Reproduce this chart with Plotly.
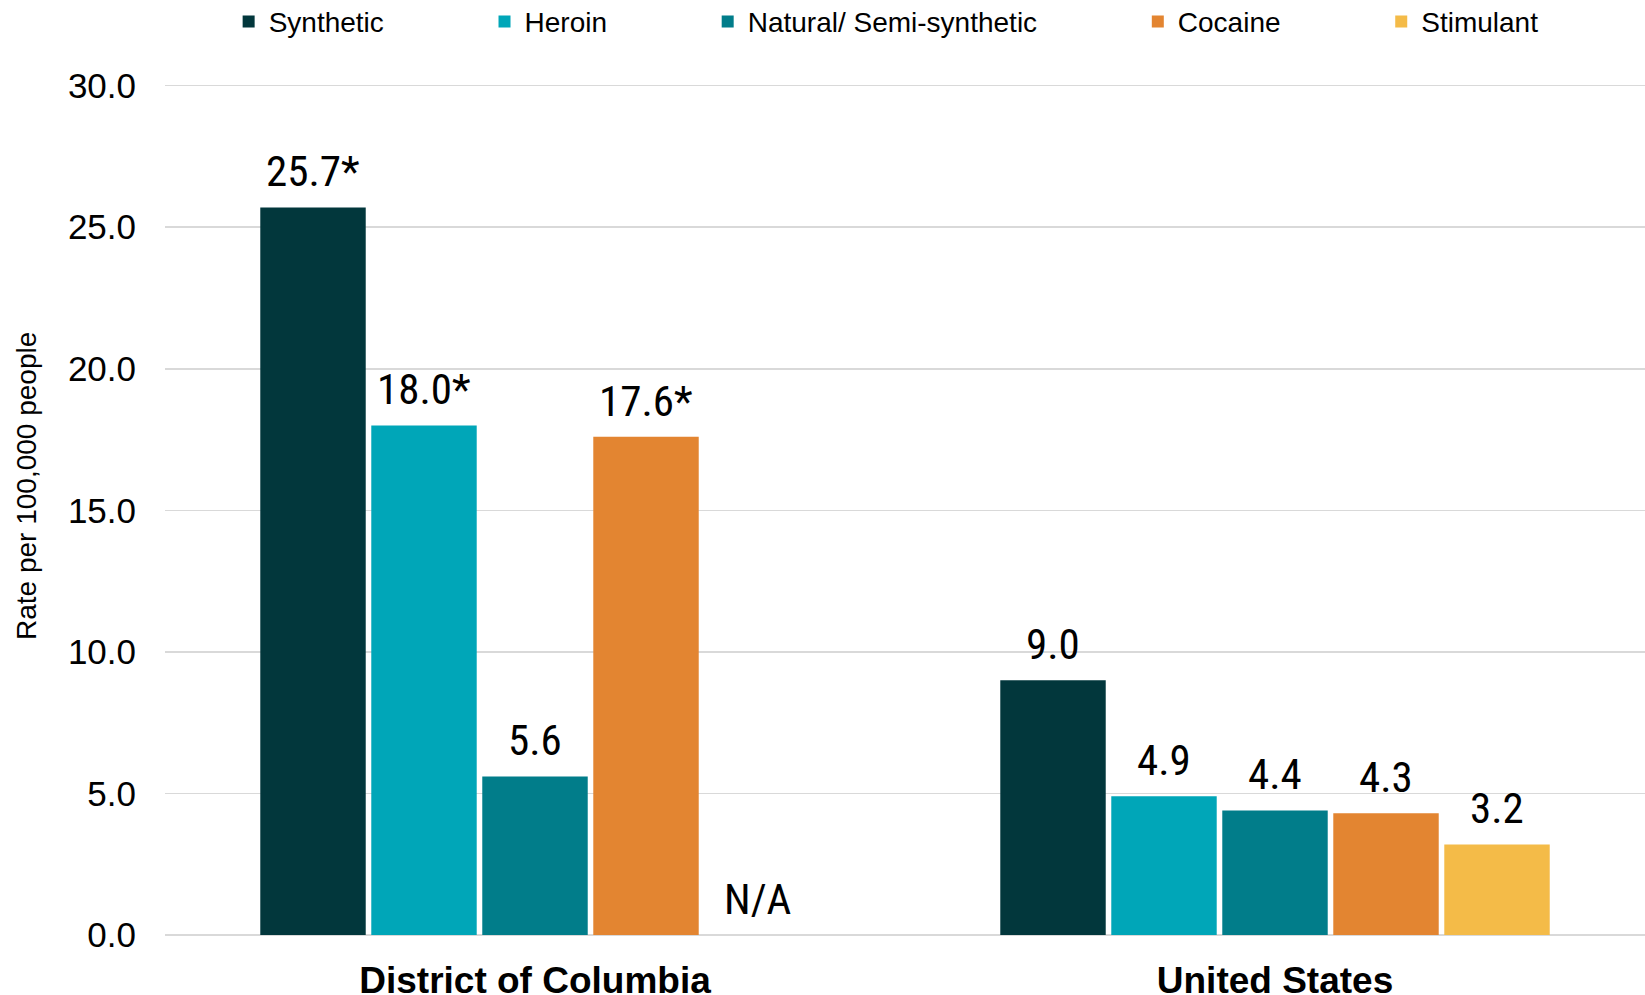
import plotly.graph_objects as go

categories = ["District of Columbia", "United States"]
series_names = ["Synthetic", "Heroin", "Natural/ Semi-synthetic", "Cocaine", "Stimulant"]
synthetic = [25.7, 9.0]
heroin = [18.0, 4.9]
natural = [5.6, 4.4]
cocaine = [17.6, 4.3]
stimulant = [None, 3.2]
significant = {"Synthetic": [True, False], "Heroin": [True, False],
               "Natural/ Semi-synthetic": [False, False], "Cocaine": [True, False],
               "Stimulant": [False, False]}
colors = ["#02373c", "#00a6b8", "#017d8a", "#e38531", "#f4bb48"]
y_ticks = [0, 5, 10, 15, 20, 25, 30]

series_values = [synthetic, heroin, natural, cocaine, stimulant]

LABEL_FONT = "Liberation Sans Narrow, Arial Narrow, Roboto Condensed, DejaVu Sans Condensed, sans-serif"
ARIAL = "Arial, Liberation Sans, sans-serif"
NBSP = "\u00a0"

BARGAP = 0.25
BARGROUPGAP = 0.05
n_series = len(series_names)
slot = (1 - BARGAP) / n_series

fig = go.Figure()
annotations = []
for i, (name, vals, col) in enumerate(zip(series_names, series_values, colors)):
    ys = [0 if v is None else v for v in vals]
    fig.add_trace(go.Bar(
        x=categories, y=ys, name=name + NBSP * 12 + "\u200a",
        marker=dict(color=col, line=dict(width=0)),
        hoverinfo="skip",
    ))
    offset = -(1 - BARGAP) / 2 + slot * (i + 0.5)
    for j, (v, sig) in enumerate(zip(vals, significant[name])):
        if v is None:
            txt, yv = "N/A", 0
        else:
            txt, yv = f"{v:.1f}" + ("*" if sig else ""), v
        annotations.append(dict(
            x=j + offset, y=yv, xref="x", yref="y", text=txt, showarrow=False,
            xanchor="center", yanchor="bottom", yshift=9,
            font=dict(family=LABEL_FONT, size=43, color="#000000"),
        ))

annotations.append(dict(
    x=-0.094, y=0.525, xref="paper", yref="paper", text="Rate per 100,000 people",
    textangle=-90, showarrow=False, xanchor="center", yanchor="middle",
    font=dict(family=ARIAL, size=28, color="#000000"),
))

fig.update_layout(
    width=1645, height=995,
    margin=dict(l=165, r=0, t=80.3, b=60, autoexpand=False),
    paper_bgcolor="white", plot_bgcolor="white",
    barmode="group", bargap=BARGAP, bargroupgap=BARGROUPGAP,
    legend=dict(orientation="h", x=0.043, xanchor="left", y=1.068, yanchor="middle",
                font=dict(family=ARIAL, size=28, color="#000000"),
                itemclick=False, itemdoubleclick=False, traceorder="normal"),
    showlegend=True,
    annotations=annotations,
)
fig.update_xaxes(
    range=[-0.5, 1.5], showgrid=False, zeroline=False, showline=False,
    tickfont=dict(family=ARIAL, size=37, color="#000000", weight="bold"),
    ticklabelstandoff=20,
)
fig.update_yaxes(
    range=[0, 30.2], tickvals=y_ticks, tickformat=".1f",
    showgrid=True, gridcolor="#d9d9d9", gridwidth=1.5,
    zeroline=True, zerolinecolor="#d9d9d9", zerolinewidth=1.5, showline=False,
    tickfont=dict(family=ARIAL, size=35, color="#000000"),
    ticklabelstandoff=28,
)

fig.write_html(
    "out.html",
    config={"displayModeBar": False, "staticPlot": True},
    post_script="document.body.style.margin='0';document.documentElement.style.overflow='hidden';document.body.style.overflow='hidden';",
)
